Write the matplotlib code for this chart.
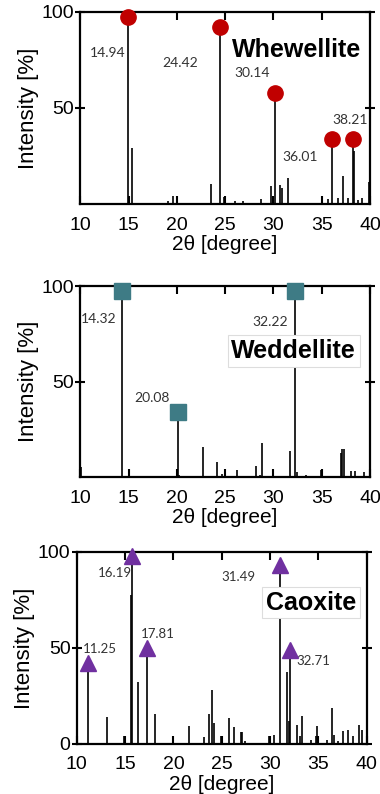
import matplotlib
matplotlib.use('Agg')
import matplotlib.pyplot as plt

plt.rcParams['font.family'] = ['Liberation Sans', 'DejaVu Sans']

# Whewellite stick pattern
whe_x = [14.94, 15.07, 15.35, 19.13, 19.6, 20.0, 23.55, 24.42, 24.93, 26.05, 26.85, 28.7,
         29.7, 30.14, 30.7, 30.86, 31.55, 35.0, 35.6, 36.01, 36.72, 37.17, 37.7, 38.21,
         38.3, 38.7, 39.15, 39.86]
whe_y = [97.5, 3.5, 29.3, 1.4, 4.0, 3.6, 10.2, 92.2, 3.6, 1.4, 1.4, 2.8,
         9.4, 57.9, 9.9, 8.4, 13.5, 3.9, 2.6, 34.1, 2.9, 14.6, 2.9, 34.1,
         27.5, 2.3, 2.9, 11.4]
whe_marked = [14.94, 24.42, 30.14, 36.01, 38.21]
whe_marked_y = [97.5, 92.2, 57.9, 34.1, 34.1]
whe_labels = ['14.94', '24.42', '30.14', '36.01', '38.21']
whe_label_pos = [(12.8, 78.4), (20.3, 73.2), (27.8, 68.3), (32.8, 24.3), (37.9, 44.0)]

# Weddellite stick pattern
wed_x = [10.05, 14.32, 15.0, 20.08, 20.25, 22.7, 24.15, 24.65, 24.95, 26.2, 28.2, 28.6,
         28.8, 29.9, 31.7, 32.22, 32.4, 33.4, 34.9, 36.95, 37.1, 37.3, 38.0, 38.4, 39.4]
wed_y = [5.5, 97.4, 3.8, 34.3, 1.2, 15.7, 8.2, 1.7, 3.8, 3.8, 5.9, 1.2,
         17.8, 3.8, 13.9, 97.4, 2.9, 1.2, 3.8, 12.9, 15.0, 15.0, 3.5, 3.5, 2.8]
wed_marked = [14.32, 20.08, 32.22]
wed_marked_y = [97.4, 34.3, 97.4]
wed_labels = ['14.32', '20.08', '32.22']
wed_label_pos = [(11.95, 82.6), (17.4, 41.3), (29.65, 81.3)]

# Caoxite stick pattern
cao_x = [11.2, 13.1, 14.9, 15.65, 15.72, 16.37, 17.3, 18.1, 19.93, 21.65, 23.2, 23.7,
         23.96, 24.2, 24.92, 25.75, 26.3, 27.0, 27.1, 27.4, 29.9, 30.4, 31.03, 31.8,
         31.96, 32.07, 32.76, 33.1, 33.3, 34.2, 34.8, 34.9, 35.9, 36.4, 36.65, 37.06,
         37.5, 38.1, 38.6, 39.23, 39.5]
cao_y = [40.0, 14.2, 4.0, 77.5, 97.0, 32.5, 48.0, 15.6, 4.0, 9.5, 3.4, 15.6,
         28.2, 10.9, 4.0, 13.5, 8.8, 6.0, 6.0, 1.4, 4.0, 4.7, 92.0, 37.4,
         12.1, 48.0, 9.7, 4.0, 14.8, 2.0, 4.0, 9.3, 2.0, 18.7, 4.5, 1.5,
         7.0, 7.5, 4.0, 10.0, 7.3]
cao_marked = [11.2, 15.72, 17.3, 31.03, 32.07]
cao_marked_y = [42.0, 98.0, 49.8, 93.0, 49.0]
cao_labels = ['11.25', '16.19', '17.81', '31.49', '32.71']
cao_label_pos = [(12.4, 49.3), (13.9, 88.8), (18.4, 57.3), (26.7, 87.0), (34.5, 43.4)]

xticks = [10, 15, 20, 25, 30, 35, 40]

fig = plt.figure(figsize=(3.8, 7.94), dpi=100)
ax1 = fig.add_axes([0.211, 0.743, 0.763, 0.242])
ax2 = fig.add_axes([0.211, 0.399, 0.763, 0.2406])
ax3 = fig.add_axes([0.202, 0.063, 0.763, 0.242])

panels = [
    (ax1, whe_x, whe_y, whe_marked, whe_marked_y, whe_labels, whe_label_pos,
     'o', '#C00000', 11, 'Whewellite', (32.4, 80.4), False, [50, 100], 10),
    (ax2, wed_x, wed_y, wed_marked, wed_marked_y, wed_labels, wed_label_pos,
     's', '#3E7B85', 11, 'Weddellite', (32.1, 66.0), True, [50, 100], 10),
    (ax3, cao_x, cao_y, cao_marked, cao_marked_y, cao_labels, cao_label_pos,
     '^', '#7030A0', 11, 'Caoxite', (34.2, 73.5), True, [0, 50, 100], 9.5),
]

for (ax, xs, ys, mx, my, labs, lpos, mk, col, ms, name, npos, boxed,
     yt, lsize) in panels:
    ax.vlines(xs, 0, ys, color='black', lw=1.2)
    ax.plot(mx, my, linestyle='none', marker=mk, color=col, markersize=ms,
            clip_on=False, zorder=5)
    for lab, (tx, ty) in zip(labs, lpos):
        ax.text(tx, ty, lab, ha='center', va='center', fontsize=lsize,
                color='#333333', family=['Lato', 'DejaVu Sans'])
    bbox = None
    if boxed:
        bbox = dict(boxstyle='square,pad=0.15', facecolor='white',
                    edgecolor='#DDDDDD', lw=0.8)
    ax.text(npos[0], npos[1], name, ha='center', va='center', fontsize=18,
            fontweight='bold', color='black', bbox=bbox, zorder=6)
    ax.set_xlim(10, 40)
    ax.set_ylim(0, 100)
    ax.set_xticks(xticks)
    ax.set_yticks(yt)
    ax.tick_params(axis='x', direction='in', top=True, length=6, width=1.5,
                   labelsize=14, pad=9)
    ax.tick_params(axis='y', direction='inout', right=True, length=7, width=1.5,
                   labelsize=14, pad=1)
    for s in ax.spines.values():
        s.set_linewidth(1.6)
    ax.set_xlabel('2θ [degree]', fontsize=15, labelpad=1)
    ax.set_ylabel('Intensity [%]', fontsize=16, labelpad=2)

fig.savefig('out.png', dpi=100)
